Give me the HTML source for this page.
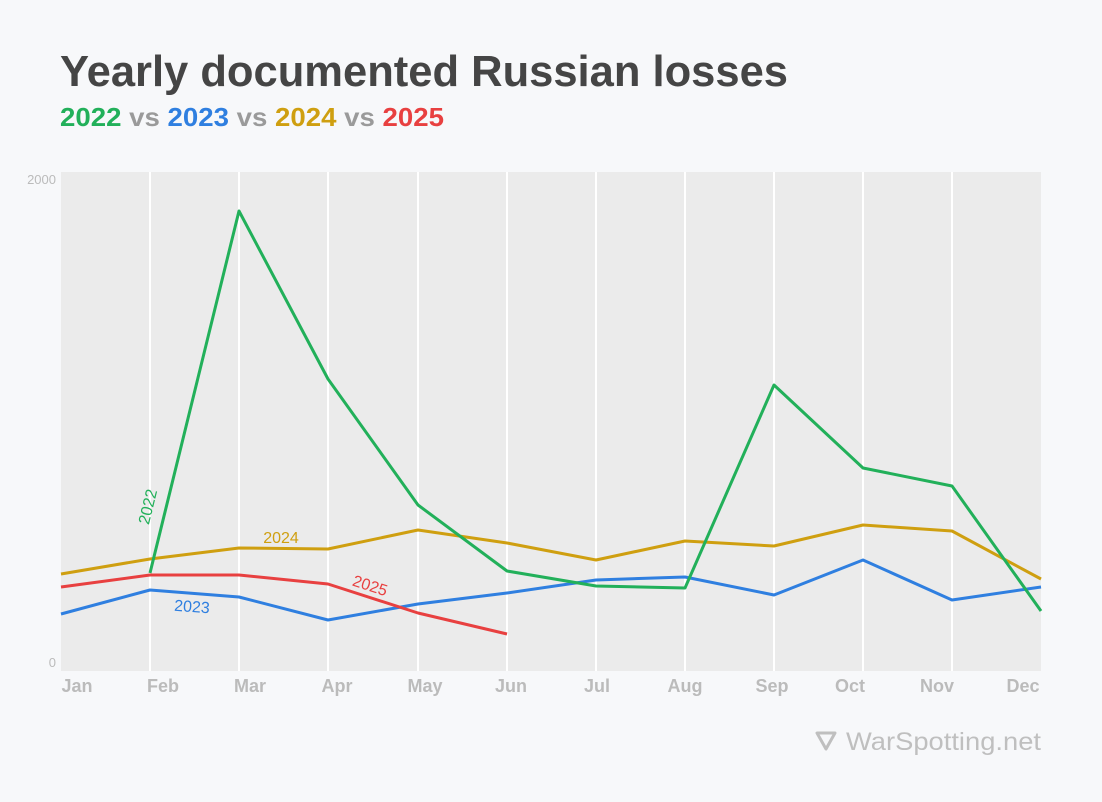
<!DOCTYPE html>
<html><head><meta charset="utf-8"><style>
body{margin:0;background:#f7f8fa;font-family:"Liberation Sans",sans-serif;}
</style></head><body>
<svg width="1102" height="802" xmlns="http://www.w3.org/2000/svg" style="display:block">
<rect width="1102" height="802" fill="#f7f8fa"/>
<text x="60" y="86" font-size="43.5" font-weight="bold" fill="#454545" font-family="Liberation Sans" textLength="728" lengthAdjust="spacingAndGlyphs">Yearly documented Russian losses</text>
<text x="60" y="126" font-size="26" font-weight="bold" font-family="Liberation Sans" textLength="384" lengthAdjust="spacingAndGlyphs"><tspan fill="#22b05a">2022</tspan><tspan fill="#9a9a9a"> vs </tspan><tspan fill="#2f7fe0">2023</tspan><tspan fill="#9a9a9a"> vs </tspan><tspan fill="#cf9f10">2024</tspan><tspan fill="#9a9a9a"> vs </tspan><tspan fill="#e84040">2025</tspan></text>
<rect x="61" y="172" width="980" height="499" fill="#ebebeb"/>
<g stroke="#ffffff" stroke-width="2">
<line x1="150" y1="172" x2="150" y2="671"/><line x1="239" y1="172" x2="239" y2="671"/><line x1="328" y1="172" x2="328" y2="671"/><line x1="418" y1="172" x2="418" y2="671"/><line x1="507" y1="172" x2="507" y2="671"/><line x1="596" y1="172" x2="596" y2="671"/><line x1="685" y1="172" x2="685" y2="671"/><line x1="774" y1="172" x2="774" y2="671"/><line x1="863" y1="172" x2="863" y2="671"/><line x1="952" y1="172" x2="952" y2="671"/>
</g>
<text x="56" y="184" font-size="13" fill="#bbb" text-anchor="end">2000</text>
<text x="56" y="667" font-size="13" fill="#bbb" text-anchor="end">0</text>
<g font-size="18" fill="#bbb" text-anchor="middle" font-weight="bold">
<text x="77" y="692">Jan</text><text x="163" y="692">Feb</text><text x="250" y="692">Mar</text><text x="337" y="692">Apr</text><text x="425" y="692">May</text><text x="511" y="692">Jun</text><text x="597" y="692">Jul</text><text x="685" y="692">Aug</text><text x="772" y="692">Sep</text><text x="850" y="692">Oct</text><text x="937" y="692">Nov</text><text x="1023" y="692">Dec</text>
</g>
<g fill="none" stroke-width="3" stroke-linejoin="round">
<polyline stroke="#cf9f10" points="61,574 150,559 239,548 328,549 418,530 507,543 596,560 685,541 774,546 863,525 952,531 1041,579"/>
<polyline stroke="#2f7fe0" points="61,614 150,590 239,597 328,620 418,604 507,593 596,580 685,577 774,595 863,560 952,600 1041,587"/>
<polyline stroke="#22b05a" points="150,573 239,211 328,379 418,505 507,571 596,586 685,588 774,385 863,468 952,486 1041,611"/>
<polyline stroke="#e84040" points="61,587 150,575 239,575 328,584 418,613 507,634"/>
</g>
<text x="281" y="543" font-size="16" fill="#cf9f10" text-anchor="middle">2024</text>
<text x="192" y="612" font-size="16" fill="#2f7fe0" text-anchor="middle" transform="rotate(4 192 606)">2023</text>
<text x="370" y="591" font-size="16" fill="#e84040" text-anchor="middle" transform="rotate(18 370 586)">2025</text>
<text x="153" y="508" font-size="16" fill="#22b05a" text-anchor="middle" transform="rotate(-76 153 508)">2022</text>
<text x="1041" y="750" font-size="25" fill="#bfbfbf" text-anchor="end" textLength="195" lengthAdjust="spacingAndGlyphs">WarSpotting.net</text>
<path d="M817,733 L835,733 L826,749 Z" fill="none" stroke="#bfbfbf" stroke-width="3" stroke-linejoin="round"/>
</svg>
</body></html>
